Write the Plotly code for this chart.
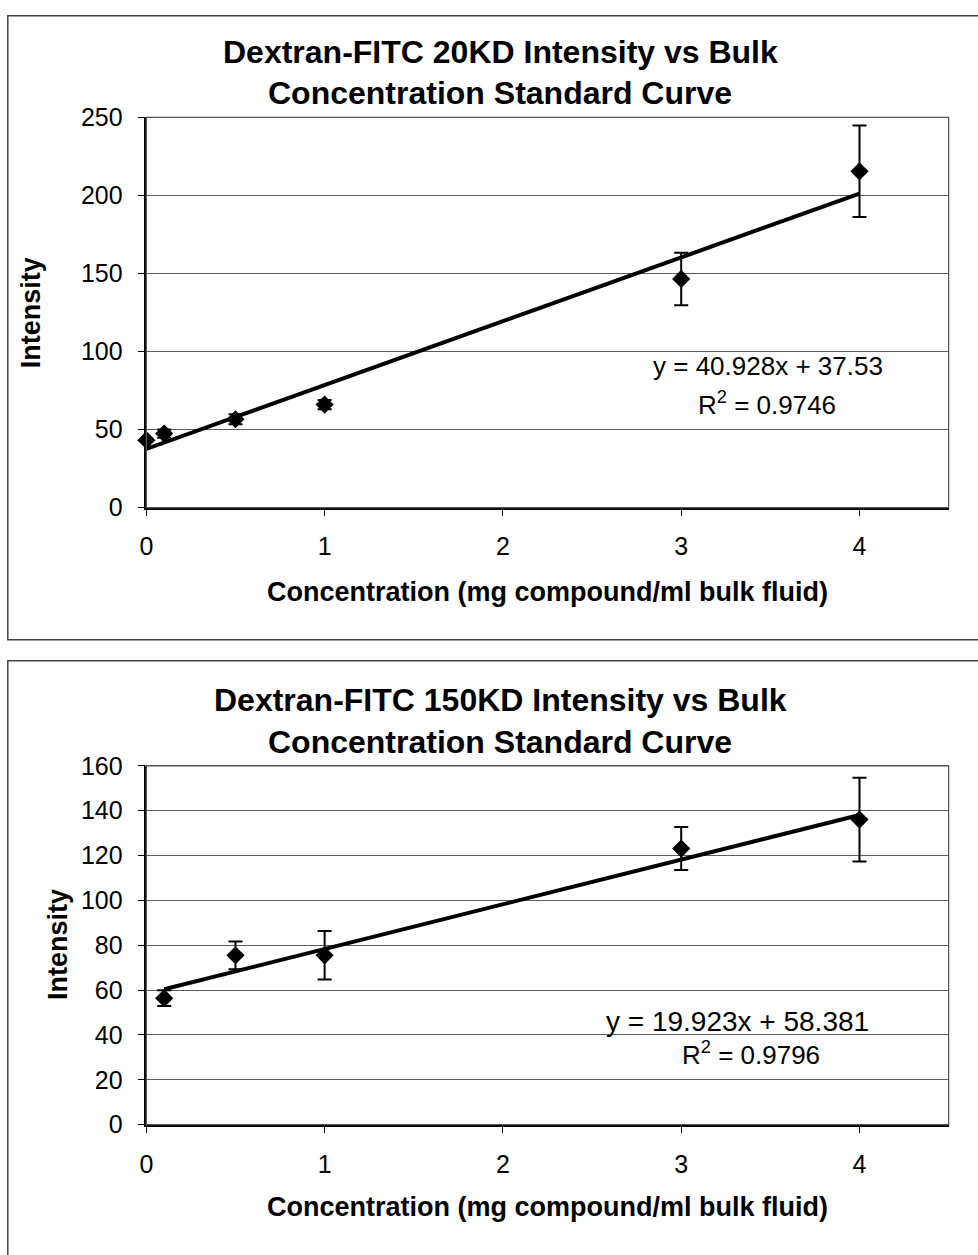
import plotly.graph_objects as go

# ---- Data: chart 1 (Dextran-FITC 20KD) ----
x1 = [0, 0.1, 0.5, 1, 3, 4]
y1 = [43.2, 47.4, 56.6, 66.0, 146.5, 215.5]
e1 = [1.0, 2.6, 3.2, 3.0, 16.8, 29.3]
slope1, icpt1, r2_1 = 40.928, 37.53, 0.9746
fit_x1 = [0, 4]

# ---- Data: chart 2 (Dextran-FITC 150KD) ----
x2 = [0.1, 0.5, 1, 3, 4]
y2 = [56.4, 75.5, 75.5, 123.1, 136.0]
e2 = [3.5, 6.2, 10.8, 9.6, 18.7]
slope2, icpt2, r2_2 = 19.923, 58.381, 0.9796
fit_x2 = [0.1, 4]

x_ticks = [0, 1, 2, 3, 4]
y1_ticks = [0, 50, 100, 150, 200, 250]
y2_ticks = [0, 20, 40, 60, 80, 100, 120, 140, 160]

title1 = ["Dextran-FITC 20KD Intensity vs Bulk", "Concentration Standard Curve"]
title2 = ["Dextran-FITC 150KD Intensity vs Bulk", "Concentration Standard Curve"]
xlabel = "Concentration (mg compound/ml bulk fluid)"
ylabel = "Intensity"

W, H = 978, 1255
FONT = "Liberation Sans, Arial, sans-serif"

# layout helpers: target pixel position -> paper fraction
def px(x):
    return ((x - 6.7) / 0.9925) / W

def py(y):
    return 1 - ((y - 14) / 0.978) / H

fig = go.Figure()

for (xs, ys, es, fx, sl, ic, xa, ya) in [
    (x1, y1, e1, fit_x1, slope1, icpt1, "x", "y"),
    (x2, y2, e2, fit_x2, slope2, icpt2, "x2", "y2"),
]:
    fig.add_trace(go.Scatter(
        x=fx, y=[sl * v + ic for v in fx], mode="lines",
        line=dict(color="black", width=4), xaxis=xa, yaxis=ya,
        showlegend=False, hoverinfo="skip", cliponaxis=False))
    fig.add_trace(go.Scatter(
        x=xs, y=ys, mode="markers",
        marker=dict(symbol="diamond", size=14, color="black"),
        error_y=dict(type="data", array=es, visible=True, color="black",
                     thickness=2, width=7),
        xaxis=xa, yaxis=ya, showlegend=False, cliponaxis=False))

axis_common = dict(
    showline=True, linecolor="black", linewidth=1.5, mirror=False,
    ticks="outside", ticklen=7, tickwidth=1.2, tickcolor="black",
    zeroline=False, tickfont=dict(family=FONT, size=25, color="black"),
)

fig.update_layout(
    width=W, height=H, margin=dict(l=0, r=0, t=0, b=0),
    paper_bgcolor="white", plot_bgcolor="white",
    font=dict(family=FONT, color="black"),
    xaxis=dict(domain=[px(146), px(948)], range=[0, 4.5], tickvals=x_ticks,
               showgrid=False, anchor="y", ticklabelstandoff=9, **axis_common),
    yaxis=dict(domain=[py(507.7), py(117.5)], range=[0, 250], tickvals=y1_ticks,
               showgrid=True, gridcolor="#5e5e5e", gridwidth=1.2, anchor="x",
               ticklabelstandoff=10, **axis_common),
    xaxis2=dict(domain=[px(146), px(948)], range=[0, 4.5], tickvals=x_ticks,
                showgrid=False, anchor="y2", ticklabelstandoff=10, **axis_common),
    yaxis2=dict(domain=[py(1125), py(766)], range=[0, 160], tickvals=y2_ticks,
                showgrid=True, gridcolor="#5e5e5e", gridwidth=1.2, anchor="x2",
                ticklabelstandoff=10, **axis_common),
)

shapes = [
    # plot area frames
    dict(type="rect", xref="paper", yref="paper", x0=px(146), x1=px(948),
         y0=py(507.7), y1=py(117.5), line=dict(color="#555", width=1.3)),
    dict(type="rect", xref="paper", yref="paper", x0=px(146), x1=px(948),
         y0=py(1125), y1=py(766), line=dict(color="#555", width=1.3)),
    # outer chart boxes
    dict(type="rect", xref="paper", yref="paper", x0=px(7.5), x1=1.02,
         y0=py(640), y1=0.9985, line=dict(color="#444", width=1.5)),
    dict(type="rect", xref="paper", yref="paper", x0=px(7.5), x1=1.02,
         y0=-0.02, y1=py(661), line=dict(color="#444", width=1.5)),
]
fig.update_layout(shapes=shapes)

def ann(text, x, y, size, bold=False, angle=0):
    return dict(text=f"<b>{text}</b>" if bold else text, x=px(x), y=py(y),
                xref="paper", yref="paper", showarrow=False, textangle=angle,
                xanchor="center", yanchor="middle",
                font=dict(family=FONT, size=size, color="black"))

annotations = [
    ann(title1[0], 500, 52, 32, True),
    ann(title1[1], 500, 93, 32, True),
    ann(title2[0], 500, 700, 32, True),
    ann(title2[1], 500, 742, 32, True),
    ann(ylabel, 31, 313, 27, True, -90),
    ann(ylabel, 57, 945, 27, True, -90),
    ann(xlabel, 547, 592, 27, True),
    ann(xlabel, 547, 1207, 27, True),
    ann(f"y = {slope1}x + {icpt1}", 767, 366, 26),
    ann(f"R<sup>2</sup> = {r2_1}", 766, 404, 26),
    ann(f"y = {slope2}x + {icpt2}", 737, 1022, 28),
    ann(f"R<sup>2</sup> = {r2_2}", 750, 1054, 26),
]
fig.update_layout(annotations=annotations)

fig.write_html("out.html")
